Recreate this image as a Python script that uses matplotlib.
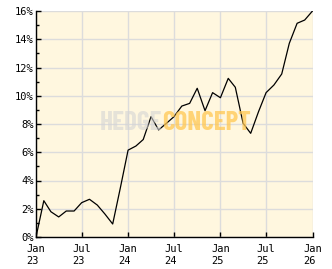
import matplotlib
matplotlib.use("Agg")
import matplotlib.pyplot as plt
import matplotlib.dates as mdates
import pandas as pd
from matplotlib.ticker import MultipleLocator, FuncFormatter

# monthly performance, Jan 2023 .. Jan 2026 (in %)
months = pd.date_range("2023-01-01", "2026-01-01", freq="MS")
perf = [0.00, 2.57, 1.79, 1.42, 1.84, 1.84, 2.43, 2.67, 2.26, 1.63, 0.92, 3.45,
        6.15, 6.44, 6.90, 8.52, 7.58, 8.05, 8.52, 9.27, 9.46, 10.53, 8.94, 10.22,
        9.86, 11.23, 10.60, 8.05, 7.34, 8.87, 10.22, 10.76, 11.54, 13.71, 15.13, 15.36,
        16.00]

fig = plt.figure(figsize = (3.32, 2.69), dpi = 100)
ax = fig.add_axes([36 / 332, 32 / 269, 276.5 / 332, 226 / 269])
ax.set_facecolor("#fff7df")

ax.plot(months, perf, color = "black", lw = 0.9, zorder = 3)

ax.set_xlim(months[0], months[-1])
ax.set_ylim(0, 16)

ax.xaxis.set_major_locator(mdates.MonthLocator(bymonth = [1, 7]))
ax.xaxis.set_major_formatter(mdates.DateFormatter("%b\n%y"))
ax.yaxis.set_major_locator(MultipleLocator(2))
ax.yaxis.set_minor_locator(MultipleLocator(1))
ax.yaxis.set_major_formatter(FuncFormatter(lambda v, p: f"{v:.0f}%"))

ax.grid(True, which = "major", color = "#dcdcdc", lw = 1, zorder = 0)
ax.set_axisbelow(True)

for side in ["top", "right"]:
    ax.spines[side].set_visible(False)
for side in ["left", "bottom"]:
    ax.spines[side].set_color("black")
    ax.spines[side].set_linewidth(1)

ax.tick_params(axis = "both", which = "major", direction = "in", length = 3.5, width = 1,
               labelsize = 7.5, colors = "black")
ax.tick_params(axis = "y", which = "minor", direction = "in", length = 2.2, width = 1)
ax.tick_params(axis = "y", pad = 1.5)
ax.tick_params(axis = "x", pad = 5)

for lab in ax.get_xticklabels() + ax.get_yticklabels():
    lab.set_family("DejaVu Sans Mono")
for lab in ax.get_xticklabels():
    lab.set_multialignment("left")

# watermark
wm = dict(fontsize = 19.5, fontweight = "bold", family = ["Barlow Condensed", "DejaVu Sans"],
          va = "center", transform = ax.transAxes, zorder = 4)
ax.text(0.456, 0.503, "HEDGE", ha = "right", color = "#d4d4d4", alpha = 0.6, **wm)
ax.text(0.456, 0.503, "CONCEPT", ha = "left", color = "#ffc752", alpha = 0.75, **wm)

fig.savefig("out.png", dpi = 100)
